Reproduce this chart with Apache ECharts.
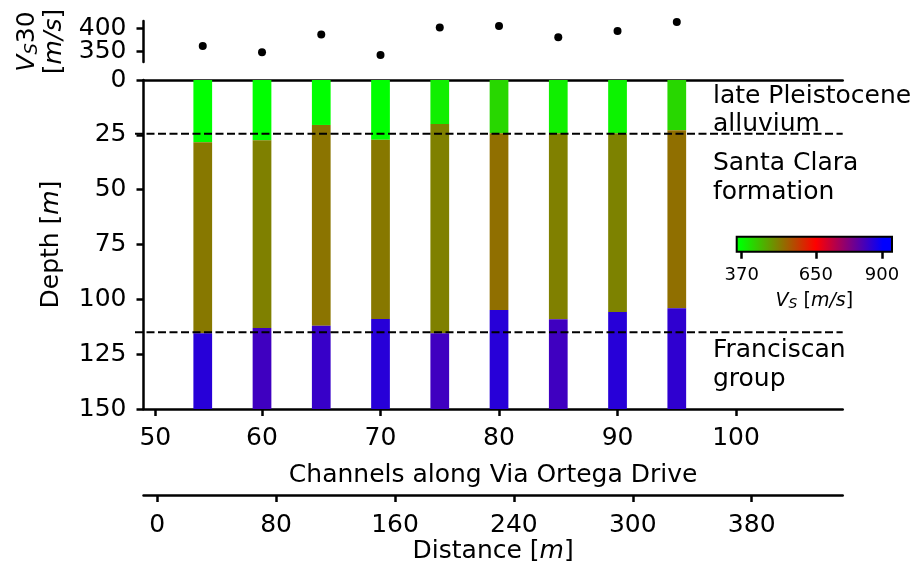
<!DOCTYPE html>
<html><head><meta charset="utf-8">
<script src="https://cdn.jsdelivr.net/npm/echarts@6/dist/echarts.min.js"></script>
<style>html,body{margin:0;padding:0;background:#fff}#c{width:924px;height:569px}</style>
</head><body><div id="c"></div>
<script>
// ---- data ----
const channels = [55, 60, 65, 70, 75, 80, 85, 90, 95];
const vs30 = [362, 349, 387, 343, 401.5, 405, 381, 394.5, 413.5];
const layer1Bottom = [28.4, 27.5, 20.5, 27.2, 20.1, 24.3, 24.3, 24.3, 22.9];
const layer2Bottom = [115.5, 113.1, 112.0, 109.0, 115.5, 104.9, 109.1, 105.8, 104.1];
const layer1Vs = [355, 340, 365, 335, 388, 414, 388, 383, 414];
const layer2Vs = [518, 509, 523, 518, 509, 528, 510, 507, 528];
const layer3Vs = [862, 838, 846, 862, 838, 862, 838, 862, 854];
const maxDepth = 150;
const boundaryDepths = [24.5, 115];
const channelTickValues = [51, 60, 70, 80, 90, 100];
const channelTickLabels = ['50', '60', '70', '80', '90', '100'];
const distanceTickLabels = ['0', '80', '160', '240', '300', '380'];
const vs30Ticks = [350, 400];
const cbarTicks = [370, 650, 900];
const cmapNodes = [370, 650, 900];
const cmapColors = [[0, 255, 0], [255, 0, 0], [0, 0, 255]];
const annotationTexts = ['late Pleistocene\nalluvium', 'Santa Clara\nformation', 'Franciscan\ngroup'];

// ---- helpers ----
function vsColor(v) {
  if (v <= cmapNodes[0]) return 'rgb(' + cmapColors[0].join(',') + ')';
  for (let i = 1; i < cmapNodes.length; i++) {
    if (v <= cmapNodes[i]) {
      const t = (v - cmapNodes[i - 1]) / (cmapNodes[i] - cmapNodes[i - 1]);
      const a = cmapColors[i - 1], b = cmapColors[i];
      return 'rgb(' + a.map((c, k) => Math.round(c + (b[k] - c) * t)).join(',') + ')';
    }
  }
  return 'rgb(' + cmapColors[cmapColors.length - 1].join(',') + ')';
}
const FONT = 'DejaVu Sans';
const FS = 25;
const XMIN = 50, XMAX = 109;
const VSMIN = 328, VSMAX = 415.6;
const CBMIN = 351, CBMAX = 938;
const barWidthCh = 1.58;
const LW = 2.5;

const layerData = [];
channels.forEach((ch, i) => {
  layerData.push([ch, 0, layer1Bottom[i], layer1Vs[i]]);
  layerData.push([ch, layer1Bottom[i], layer2Bottom[i], layer2Vs[i]]);
  layerData.push([ch, layer2Bottom[i], maxDepth, layer3Vs[i]]);
});

const gridL = 143.5, gridR = 924 - 842.7;
const axisLineStyle = { show: true, onZero: false, lineStyle: { color: '#000', width: LW } };
const tickStyle = { show: true, length: 7, lineStyle: { color: '#000', width: LW } };
const labelBase = { color: '#000', fontFamily: FONT, fontSize: FS };
const showAll = { showMinLabel: true, showMaxLabel: true, hideOverlap: false, interval: 0 };

const cbStops = [{ offset: 0, color: vsColor(CBMIN) }]
  .concat(cmapNodes.map(v => ({ offset: (v - CBMIN) / (CBMAX - CBMIN), color: vsColor(v) })))
  .concat([{ offset: 1, color: vsColor(CBMAX) }]);

const distIdx = distanceTickLabels.map((_, i) => i);

// one y axis per Vs30 tick (labels are closer together than their font height)
function vs30Axis(tick, first) {
  const ax = {
    gridIndex: 0, type: 'value', min: VSMIN, max: VSMAX, position: 'left',
    axisLine: first ? axisLineStyle : { show: false }, splitLine: { show: false },
    axisTick: Object.assign({ customValues: [tick] }, tickStyle),
    axisLabel: Object.assign({ customValues: [tick], margin: 17 }, labelBase, showAll)
  };
  if (first) {
    Object.assign(ax, {
      name: '{i|V}{s|S}30\n[{i|m/s}]', nameLocation: 'middle', nameGap: 72,
      nameTextStyle: {
        color: '#000', fontFamily: FONT, fontSize: FS, lineHeight: 27,
        rich: {
          i: { fontStyle: 'italic', fontFamily: FONT, fontSize: FS, color: '#000', lineHeight: 27 },
          s: { fontStyle: 'italic', fontFamily: FONT, fontSize: 18, color: '#000', lineHeight: 18, verticalAlign: 'bottom' }
        }
      }
    });
  }
  return ax;
}

const chart = echarts.init(document.getElementById('c'), null, { renderer: 'canvas' });
const option = {
  animation: false,
  backgroundColor: '#fff',
  grid: [
    { left: gridL, right: gridR, top: 21, height: 41 },
    { left: gridL, right: gridR, top: 80, height: 329 },
    { left: gridL, right: gridR, top: 494, height: 1 },
    { left: 736.7, width: 155.3, top: 236.7, height: 15 }
  ],
  xAxis: [
    { gridIndex: 0, type: 'value', min: XMIN, max: XMAX, show: false },
    {
      gridIndex: 1, type: 'value', min: XMIN, max: XMAX, position: 'bottom',
      axisLine: axisLineStyle, splitLine: { show: false },
      axisTick: Object.assign({ customValues: channelTickValues }, tickStyle),
      axisLabel: Object.assign({ customValues: channelTickValues, margin: 17,
        formatter: v => channelTickLabels[channelTickValues.indexOf(v)] }, labelBase, showAll),
      name: 'Channels along Via Ortega Drive', nameLocation: 'middle', nameGap: 54,
      nameTextStyle: labelBase
    },
    {
      gridIndex: 1, type: 'value', min: XMIN, max: XMAX, position: 'top',
      axisLine: axisLineStyle, axisTick: { show: false }, axisLabel: { show: false }, splitLine: { show: false }
    },
    {
      gridIndex: 2, type: 'value', min: -0.115, max: 5.765, position: 'bottom',
      axisLine: axisLineStyle, splitLine: { show: false },
      axisTick: Object.assign({ customValues: distIdx }, tickStyle),
      axisLabel: Object.assign({ customValues: distIdx, margin: 18,
        formatter: v => distanceTickLabels[Math.round(v)] }, labelBase, showAll),
      name: 'Distance [{i|m}]', nameLocation: 'middle', nameGap: 43,
      nameTextStyle: Object.assign({ rich: { i: Object.assign({ fontStyle: 'italic' }, labelBase) } }, labelBase)
    },
    {
      gridIndex: 3, type: 'value', min: CBMIN, max: CBMAX, position: 'bottom',
      axisLine: { show: false }, splitLine: { show: false },
      axisTick: { show: true, customValues: cbarTicks, length: 7, lineStyle: { color: '#000', width: 2.5 } },
      axisLabel: Object.assign({ customValues: cbarTicks, margin: 15, color: '#000', fontFamily: FONT, fontSize: 18 }, showAll),
      name: '{i|V}{s|S} [{i|m/s}]', nameLocation: 'middle', nameGap: 38,
      nameTextStyle: {
        color: '#000', fontFamily: FONT, fontSize: 19,
        rich: {
          i: { fontStyle: 'italic', fontFamily: FONT, fontSize: 19, color: '#000', lineHeight: 22 },
          s: { fontStyle: 'italic', fontFamily: FONT, fontSize: 14, color: '#000', lineHeight: 13, verticalAlign: 'bottom' }
        }
      }
    }
  ],
  yAxis: [
    vs30Axis(vs30Ticks[0], true),
    {
      gridIndex: 1, type: 'value', min: 0, max: maxDepth, interval: 25, inverse: true,
      axisLine: axisLineStyle, splitLine: { show: false },
      axisTick: tickStyle,
      axisLabel: Object.assign({ margin: 17 }, labelBase, showAll),
      name: 'Depth [{i|m}]', nameLocation: 'middle', nameGap: 80,
      nameTextStyle: Object.assign({ rich: { i: Object.assign({ fontStyle: 'italic' }, labelBase) } }, labelBase)
    },
    { gridIndex: 2, type: 'value', min: 0, max: 1, show: false },
    { gridIndex: 3, type: 'value', min: 0, max: 1, show: false }
  ].concat(vs30Ticks.slice(1).map(t => vs30Axis(t, false))),
  series: [
    {
      type: 'scatter', xAxisIndex: 0, yAxisIndex: 0, symbolSize: 8,
      itemStyle: { color: '#000', opacity: 1 },
      data: channels.map((c, i) => [c, vs30[i]])
    },
    {
      type: 'custom', xAxisIndex: 1, yAxisIndex: 1, clip: false,
      data: layerData,
      renderItem: function (params, api) {
        const x = api.value(0), top = api.value(1), bot = api.value(2);
        const p1 = api.coord([x, top]), p2 = api.coord([x, bot]);
        const w = api.size([barWidthCh, 0])[0];
        return { type: 'rect', shape: { x: p1[0] - w / 2, y: p1[1], width: w, height: p2[1] - p1[1] },
          style: { fill: vsColor(api.value(3)) } };
      }
    },
    {
      type: 'custom', xAxisIndex: 1, yAxisIndex: 1, clip: false, z: 5,
      data: boundaryDepths.map(d => [XMIN, d]),
      renderItem: function (params, api) {
        const d = api.value(1);
        const a = api.coord([XMIN, d]), b = api.coord([XMAX, d]);
        return { type: 'line', shape: { x1: a[0] - 8.5, y1: a[1], x2: b[0], y2: b[1] },
          style: { stroke: '#000', lineWidth: 2.2, lineDash: [8, 3.5] } };
      }
    },
    {
      type: 'custom', xAxisIndex: 4, yAxisIndex: 3, clip: false,
      data: [[CBMIN, 0]],
      renderItem: function (params, api) {
        const p0 = api.coord([CBMIN, 0]), p1 = api.coord([CBMAX, 1]);
        return { type: 'rect', shape: { x: p0[0], y: p1[1], width: p1[0] - p0[0], height: p0[1] - p1[1] },
          style: { fill: new echarts.graphic.LinearGradient(0, 0, 1, 0, cbStops), stroke: '#000', lineWidth: 2 } };
      }
    }
  ]
};
chart.setOption(option);

// annotations anchored in data coordinates of the main panel
const annotAnchors = [[98.05, 13.8], [98.05, 44.7], [98.05, 130]];
const graphics = annotationTexts.map((t, i) => {
  const p = chart.convertToPixel({ gridIndex: 1 }, annotAnchors[i]);
  return { type: 'text', x: p[0], y: p[1], z: 10,
    style: { text: t, fill: '#000', font: FS + 'px "' + FONT + '"', lineHeight: 28.3,
      align: 'left', verticalAlign: 'middle' } };
});
chart.setOption({ graphic: graphics });
</script>
</body></html>
